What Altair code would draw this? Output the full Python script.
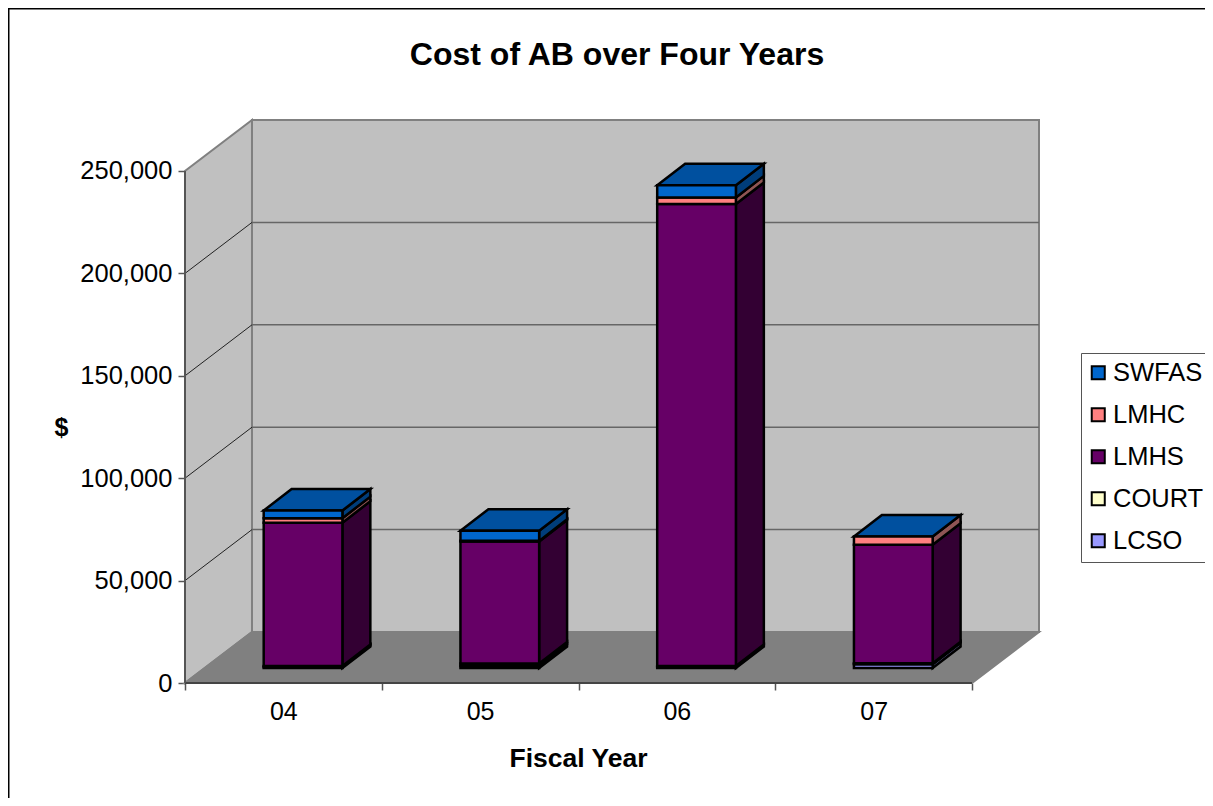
import altair as alt
import pandas as pd

TITLE = "Cost of AB over Four Years"
YEARS = ["04", "05", "06", "07"]
SERIES = ["SWFAS", "LMHC", "LMHS", "COURT", "LCSO"]
STACK_ORDER = ["LCSO", "COURT", "LMHS", "LMHC", "SWFAS"]
LCSO = [500, 1000, 500, 1900]
COURT = [500, 1200, 500, 500]
LMHS = [70000, 59600, 225600, 57800]
LMHC = [2200, 300, 3200, 4000]
SWFAS = [3700, 4900, 5900, 0]
VALUES = {"LCSO": LCSO, "COURT": COURT, "LMHS": LMHS, "LMHC": LMHC, "SWFAS": SWFAS}
FRONT = {"SWFAS": "#0066CC", "LMHC": "#FF8080", "LMHS": "#660066", "COURT": "#FFFFCC", "LCSO": "#9999FF"}
SIDE = {"SWFAS": "#003D7A", "LMHC": "#8F5555", "LMHS": "#330033", "COURT": "#808066", "LCSO": "#666699"}
TOP_FILL = "#00509F"
Y_TICKS = [0, 50000, 100000, 150000, 200000, 250000]
FONT = "Liberation Sans"

# 3-D projection of the Excel chart, in data units
WALL_DX, WALL_DY = 0.3405, 24900
BAR_X0, BAR_W = 0.40, 0.40
BAR_BASE = 7300
BAR_DX, BAR_DY = 0.142, 10500
X_DOM = [0, 4.3456]
Y_DOM = [0, 274900]
XS = alt.Scale(domain=X_DOM, nice=False, zero=False)
YS = alt.Scale(domain=Y_DOM, nice=False, zero=False)
W, H = 855, 563
PAD = {"left": 177, "top": 112, "right": 165, "bottom": 115}

fronts, sides, tops = [], [], []
for i, yr in enumerate(YEARS):
    x0, x1 = i + BAR_X0, i + BAR_X0 + BAR_W
    v = BAR_BASE
    for s in STACK_ORDER:
        val = VALUES[s][i]
        if val <= 0:
            continue
        fronts.append(dict(series=s, x=x0, x2=x1, y=v, y2=v + val))
        fid = f"{yr}-{s}"
        sides.append(dict(id=fid, fill=SIDE[s], x=x1, y=v, y2=v + val))
        sides.append(dict(id=fid, fill=SIDE[s], x=x1 + BAR_DX, y=v + BAR_DY, y2=v + val + BAR_DY))
        v += val
    tops.append(dict(id=yr, fill=TOP_FILL, y=v, x=x0, x2=x1))
    tops.append(dict(id=yr, fill=TOP_FILL, y=v + BAR_DY, x=x0 + BAR_DX, x2=x1 + BAR_DX))

top_v = Y_TICKS[-1]
left_wall = pd.DataFrame([dict(x=0, y=0, y2=top_v), dict(x=WALL_DX, y=WALL_DY, y2=top_v + WALL_DY)])
back_wall = pd.DataFrame([dict(x=WALL_DX, x2=WALL_DX + 4, y=WALL_DY, y2=top_v + WALL_DY)])
floor = pd.DataFrame([dict(y=0, x=0, x2=4), dict(y=WALL_DY, x=WALL_DX, x2=WALL_DX + 4)])
grid_back = pd.DataFrame([dict(x=WALL_DX, x2=WALL_DX + 4, y=t + WALL_DY) for t in Y_TICKS[1:-1]])
grid_left = pd.DataFrame([r for t in Y_TICKS[1:-1] for r in
                          (dict(k=t, x=0, y=t), dict(k=t, x=WALL_DX, y=t + WALL_DY))])
axis_x = pd.DataFrame([dict(x=0, x2=4, y=0)])
axis_y = pd.DataFrame([dict(x=0, y=0, y2=top_v)])

X = lambda f="x:Q": alt.X(f, scale=XS, axis=None)
Y = lambda f="y:Q": alt.Y(f, scale=YS, axis=None)

labels = "[" + ",".join(f"'{y}'" for y in YEARS) + "]"
axes = alt.Chart(axis_y).mark_rule(color="#555555", strokeWidth=2).encode(
    x=alt.X("x:Q", scale=XS, axis=alt.Axis(
        values=[k / 2 for k in range(9)], domain=False, grid=False,
        labelExpr=f"datum.value % 1 ? {labels}[floor(datum.value)] : ''",
        tickOpacity={"condition": {"test": "datum.value % 1 != 0", "value": 0}, "value": 1},
        tickColor="#555555", tickSize=7, tickWidth=1.5, labelFont=FONT, labelFontSize=25, labelColor="black",
        labelPadding=9, labelOverlap=False, labelFlush=False, labelBound=False,
        title="Fiscal Year", titleFont=FONT, titleFontSize=26.5, titleFontWeight="bold", titleColor="black",
        titleX=393, titleY=75, titleAlign="center", titleBaseline="middle")),
    y=alt.Y("y:Q", scale=YS, axis=alt.Axis(
        values=Y_TICKS, domain=False, grid=False, labelExpr="format(datum.value, ',d')",
        tickColor="#555555", tickSize=7, tickWidth=1.5, labelFont=FONT, labelFontSize=25.5, labelColor="black",
        labelPadding=6, labelOverlap=False,
        title="$", titleFont=FONT, titleFontSize=25, titleFontWeight="bold", titleColor="black", titleAngle=0,
        titleX=-124, titleY=307, titleAlign="center", titleBaseline="middle")),
    y2="y2:Q",
)

layers = [
    alt.Chart(left_wall).mark_area(color="#C0C0C0", stroke="#808080", strokeWidth=2).encode(x=X(), y=Y(), y2="y2:Q"),
    alt.Chart(back_wall).mark_rect(color="#C0C0C0", stroke="#808080", strokeWidth=2).encode(x=X(), x2="x2:Q", y=Y(), y2="y2:Q"),
    alt.Chart(floor).mark_area(orient="horizontal", color="#808080", stroke="#808080", strokeWidth=2).encode(y=Y(), x=X(), x2="x2:Q"),
    alt.Chart(grid_back).mark_rule(color="#666666", strokeWidth=1.5).encode(x=X(), x2="x2:Q", y=Y()),
    alt.Chart(grid_left).mark_line(color="#222222", strokeWidth=1).encode(x=X(), y=Y(), detail="k:N"),
    alt.Chart(axis_x).mark_rule(color="#444444", strokeWidth=2).encode(x=X(), x2="x2:Q", y=Y()),
    axes,
    alt.Chart(pd.DataFrame(sides)).mark_area(stroke="black", strokeWidth=2.5).encode(
        x=X(), y=Y(), y2="y2:Q", color=alt.Color("fill:N", scale=None), detail="id:N"),
    alt.Chart(pd.DataFrame(tops)).mark_area(orient="horizontal", stroke="black", strokeWidth=2.5).encode(
        y=Y(), x=X(), x2="x2:Q", color=alt.Color("fill:N", scale=None), detail="id:N"),
    alt.Chart(pd.DataFrame(fronts)).mark_bar(stroke="black", strokeWidth=2.5).encode(
        x=X(), x2="x2:Q", y=Y(), y2="y2:Q",
        color=alt.Color("series:N", sort=SERIES,
                        scale=alt.Scale(domain=SERIES, range=[FRONT[s] for s in SERIES]),
                        legend=alt.Legend(
                            title=None, orient="none", legendX=896, legendY=233, padding=7,
                            fillColor="white", strokeColor="#555555", symbolType="square", symbolSize=170,
                            symbolOffset=-2.5, symbolStrokeColor="black", symbolStrokeWidth=2,
                            labelFont=FONT, labelFontSize=25.5, labelColor="black", labelOffset=2,
                            rowPadding=15, labelLimit=200))),
    # chart title
    alt.Chart(pd.DataFrame([dict(t=TITLE)])).mark_text(
        font=FONT, fontSize=32, fontWeight="bold", color="black", align="center", baseline="middle"
    ).encode(text="t:N", x=alt.value(432), y=alt.value(-65)),
    # chart-area frame (top and left edges only; the rest is cropped in the reference)
    alt.Chart(axis_x).mark_rule(color="black", strokeWidth=3).encode(
        x=alt.value(-PAD["left"]), x2=alt.value(W + PAD["right"]), y=alt.value(-PAD["top"])),
    alt.Chart(axis_x).mark_rule(color="black", strokeWidth=3).encode(
        x=alt.value(-PAD["left"]), y=alt.value(-PAD["top"]), y2=alt.value(H + PAD["bottom"])),
]

chart = alt.layer(*layers).resolve_axis(x="independent", y="independent").properties(
    width=W, height=H,
    autosize="none",
    padding=PAD,
    background="white",
).configure_view(strokeWidth=0)

chart.save("out.html", embed_options={"renderer": "svg", "actions": False})
